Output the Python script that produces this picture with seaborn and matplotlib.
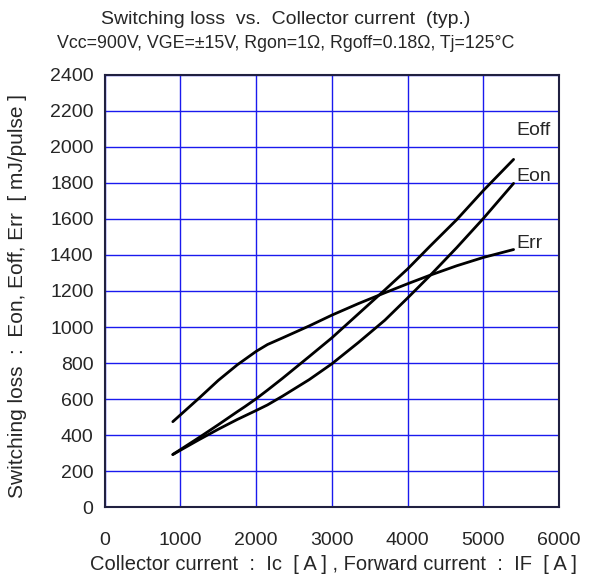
import pandas as pd
import numpy as np
import matplotlib
matplotlib.use("Agg")
import matplotlib.pyplot as plt
from matplotlib.ticker import MultipleLocator
import seaborn as sns

# Values
current = [900, 1250, 1500, 1750, 1850, 2000, 2150, 2350, 2700, 3000, 3350, 3700, 4000, 4300, 4650, 5000, 5400]
e_off = [293, 388, 458, 530, 558, 602, 650, 716, 836, 940, 1073, 1206, 1322, 1450, 1596, 1757, 1930]
e_on = [293, 376, 433, 487, 507, 537, 568, 617, 708, 796, 914, 1038, 1161, 1287, 1441, 1602, 1797]
e_rr = [475, 607, 704, 790, 820, 865, 903, 940, 1006, 1066, 1130, 1190, 1240, 1288, 1340, 1386, 1430]
curve_names = ["Eoff", "Eon", "Err"]
label_y = [2093, 1833, 1461]

title = "Switching loss  vs.  Collector current  (typ.)"
subtitle = "Vcc=900V, VGE=\u00b115V, Rgon=1\u03a9, Rgoff=0.18\u03a9, Tj=125\u00b0C"
xlabel = "Collector current  :  Ic  [ A ] , Forward current  :  IF  [ A ]"
ylabel = "Switching loss  :  Eon, Eoff, Err  [ mJ/pulse ]"

df = pd.concat([
    pd.DataFrame({"Ic": current, "E": vals, "curve": name})
    for name, vals in zip(curve_names, [e_off, e_on, e_rr])
])

sns.set_style("white")
plt.rcParams["font.family"] = ["Liberation Sans", "DejaVu Sans"]

fig = plt.figure(figsize=(6.05, 5.78), dpi=100)
ax = fig.add_axes([0.173, 0.1223, 0.751, 0.7485])

sns.lineplot(data=df, x="Ic", y="E", hue="curve", palette=["black"] * 3,
             linewidth=2, legend=False, ax=ax, sort=True)

ax.set_xlim(0, 6000)
ax.set_ylim(0, 2400)
ax.xaxis.set_major_locator(MultipleLocator(1000))
ax.xaxis.set_minor_locator(MultipleLocator(500))
ax.yaxis.set_major_locator(MultipleLocator(200))
ax.yaxis.set_minor_locator(MultipleLocator(100))
ax.grid(True, which="major", color="#1a1aee", linewidth=1)
ax.tick_params(which="both", direction="in", labelsize=14, color="black")
ax.tick_params(which="both", length=5)
ax.tick_params(axis="x", which="major", pad=18)
ax.tick_params(axis="y", which="major", pad=8)
for s in ax.spines.values():
    s.set_color("#202040")
    s.set_linewidth(1.5)

for name, y in zip(curve_names, label_y):
    ax.text(5440, y, name, fontsize=14, va="center", ha="left")

ax.set_xlabel("")
ax.set_ylabel("")
fig.text(286 / 605, 1 - 20 / 578, title, ha="center", va="center", fontsize=14)
fig.text(286 / 605, 1 - 44 / 578, subtitle, ha="center", va="center", fontsize=12.8)
fig.text(333 / 605, 1 - 565 / 578, xlabel, ha="center", va="center", fontsize=14.5)
fig.text(18 / 605, 1 - 296 / 578, ylabel, ha="center", va="center", fontsize=15, rotation=90)

fig.savefig("out.png", dpi=100)
